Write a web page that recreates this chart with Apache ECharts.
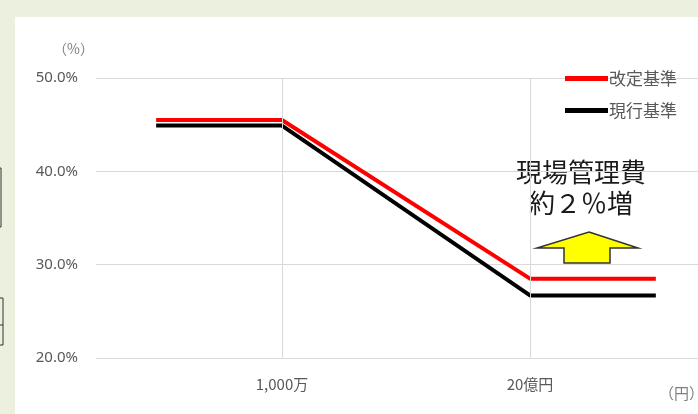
<!DOCTYPE html>
<html>
<head>
<meta charset="utf-8">
<script src="https://cdn.jsdelivr.net/npm/echarts@6/dist/echarts.min.js"></script>
<style>
  html, body { margin: 0; padding: 0; background: #EBF1DE; overflow: hidden; }
  #panel { position: absolute; left: 15px; top: 17px; width: 700px; height: 420px; background: #ffffff; }
  #main { position: absolute; left: 0; top: 0; width: 698px; height: 414px; }
</style>
</head>
<body>
<div id="panel"></div>
<div id="main"></div>
<script>
// ---- data ----
const seriesNames = ['改定基準', '現行基準'];
const xPositions = [0.97, 3, 7, 9.03];          // in x-axis units (3 = 1,000万, 7 = 20億円)
const revisedRate = [45.5, 45.5, 28.5, 28.5];   // 改定基準 (%)
const currentRate = [44.9, 44.9, 26.7, 26.7];   // 現行基準 (%)
const xTickValues = [3, 7];
const xTickLabels = ['1,000万', '20億円'];
const yTicks = [20, 30, 40, 50];

const toPairs = (ys) => xPositions.map((x, i) => [x, ys[i]]);
const labelMap = {};
xTickValues.forEach((v, i) => { labelMap[v] = xTickLabels[i]; });

const chart = echarts.init(document.getElementById('main'), null, { renderer: 'canvas' });
const font = '"Noto Sans CJK JP", "Noto Sans", sans-serif';

chart.setOption({
  animation: false,
  backgroundColor: 'transparent',
  textStyle: { fontFamily: font },
  grid: { left: 96, right: 0, top: 78, bottom: 56, containLabel: false },
  legend: {
    data: seriesNames,
    orient: 'vertical',
    left: 560,
    top: 65,
    itemWidth: 43,
    itemHeight: 5,
    itemGap: 15,
    icon: 'rect',
    textStyle: { fontSize: 17, color: '#595959', fontFamily: font, padding: [0, 0, 0, -4] }
  },
  xAxis: {
    type: 'value',
    min: 0,
    max: 9.71,
    interval: 1,
    axisLine: { show: false },
    axisTick: { show: false },
    splitLine: { show: false },
    axisLabel: {
      margin: 19,
      fontSize: 15,
      color: '#595959',
      fontFamily: font,
      showMinLabel: false,
      showMaxLabel: false,
      formatter: (v) => labelMap[v] || ''
    }
  },
  yAxis: {
    type: 'value',
    min: yTicks[0],
    max: yTicks[yTicks.length - 1],
    interval: 10,
    axisLine: { show: false },
    axisTick: { show: false },
    splitLine: { lineStyle: { color: '#D9D9D9', width: 1 } },
    axisLabel: {
      margin: 18,
      fontSize: 15,
      color: '#595959',
      fontFamily: '"Noto Sans", sans-serif',
      formatter: (v) => v.toFixed(1) + '%'
    }
  },
  series: [
    {
      name: seriesNames[0],
      type: 'line',
      data: toPairs(revisedRate),
      symbol: 'none',
      lineStyle: { color: '#FF0000', width: 4 },
      itemStyle: { color: '#FF0000' },
      z: 3,
      markLine: {
        silent: true,
        symbol: ['none', 'none'],
        label: { show: false },
        lineStyle: { color: '#D9D9D9', width: 1, type: 'solid' },
        data: xTickValues.map(v => ({ xAxis: v }))
      }
    },
    {
      name: seriesNames[1],
      type: 'line',
      data: toPairs(currentRate),
      symbol: 'none',
      lineStyle: { color: '#000000', width: 4 },
      itemStyle: { color: '#000000' },
      z: 3
    }
  ],
  graphic: [
    { type: 'text', left: 53, top: 42, style: { text: '（%）', fontSize: 14, fill: '#7F7F7F', fontFamily: font } },
    { type: 'text', left: 659, top: 386, style: { text: '（円）', fontSize: 15, fill: '#7F7F7F', fontFamily: font } },
    { type: 'text', x: 581, y: 172, style: { text: '現場管理費', fontSize: 26, fill: '#1A1A1A', fontFamily: font, align: 'center', verticalAlign: 'middle' } },
    { type: 'text', x: 581, y: 203, style: { text: '約２％増', fontSize: 26, fill: '#1A1A1A', fontFamily: font, align: 'center', verticalAlign: 'middle' } },
    {
      type: 'polygon',
      shape: { points: [[589, 232], [638, 248], [610, 248], [610, 263], [564, 263], [564, 248], [537, 248]] },
      style: { fill: '#FFFF00', stroke: '#333333', lineWidth: 1.5 },
      z: 10
    },
    { type: 'rect', shape: { x: -10, y: 168, width: 11, height: 59 }, style: { fill: 'none', stroke: '#333333', lineWidth: 1 } },
    { type: 'rect', shape: { x: -10, y: 298, width: 13, height: 47 }, style: { fill: 'none', stroke: '#333333', lineWidth: 1 } },
    { type: 'line', shape: { x1: 0, y1: 325, x2: 3, y2: 325 }, style: { stroke: '#333333', lineWidth: 1 } }
  ]
});
</script>
</body>
</html>
